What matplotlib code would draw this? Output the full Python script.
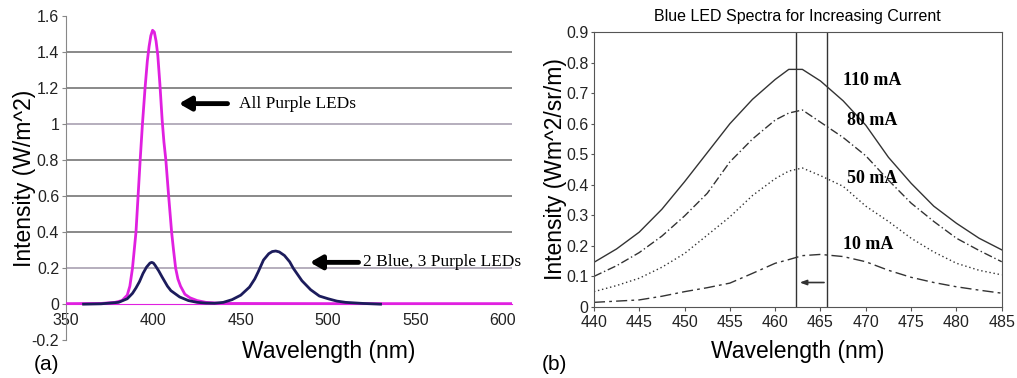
import matplotlib.pyplot as plt

# (a) spectra, W/m^2
wl_purple = [350, 370, 378, 382, 385, 386.5, 388, 389, 390, 391.2, 392.4, 393.7, 395.2, 396.5, 397.5, 398.5,
             399.5, 400.5, 401.5, 402.5, 403.7, 405, 406, 407.1, 408.7, 410.4, 411.5, 412.7, 414, 415.5,
             418, 421, 425, 430, 440, 500, 605]
all_purple = [0.003, 0.004, 0.01, 0.02, 0.05, 0.1, 0.2, 0.3, 0.4, 0.6, 0.8, 1.0, 1.2, 1.35, 1.43, 1.49,
              1.52, 1.51, 1.46, 1.38, 1.22, 1.02, 0.9, 0.8, 0.6, 0.4, 0.3, 0.2, 0.14, 0.1,
              0.055, 0.035, 0.02, 0.01, 0.004, 0.003, 0.003]

wl_mix = [360, 370, 380, 385, 388, 390, 392, 394, 396, 398, 399, 400, 401, 403, 405, 408, 410, 415, 420, 425,
          430, 435, 440, 445, 450, 455, 458, 460, 463, 466, 468, 470, 472, 475, 478, 480, 485, 490, 495,
          500, 505, 510, 520, 530]
mix = [0.0, 0.002, 0.01, 0.03, 0.06, 0.09, 0.125, 0.17, 0.205, 0.228, 0.232, 0.228, 0.215, 0.185, 0.15, 0.1,
       0.075, 0.04, 0.02, 0.01, 0.006, 0.005, 0.01, 0.025, 0.05, 0.095, 0.14, 0.18, 0.245, 0.28, 0.292, 0.295,
       0.29, 0.27, 0.235, 0.2, 0.13, 0.08, 0.045, 0.03, 0.017, 0.01, 0.004, 0.0]

# (b) blue LED spectra, Wm^2/sr/m
wl_b = [440, 442.5, 445, 447.5, 450, 452.5, 455, 457.5, 460, 461.5, 463, 465, 467.5, 470, 472.5, 475, 477.5, 480, 482.5, 485]
i110 = [0.146, 0.19, 0.245, 0.32, 0.41, 0.505, 0.60, 0.68, 0.745, 0.778, 0.778, 0.74, 0.675, 0.595, 0.49, 0.405, 0.33, 0.274, 0.225, 0.187]
i80 = [0.10, 0.135, 0.178, 0.232, 0.298, 0.372, 0.475, 0.55, 0.612, 0.635, 0.645, 0.605, 0.555, 0.495, 0.415, 0.34, 0.28, 0.225, 0.185, 0.148]
i50 = [0.05, 0.07, 0.094, 0.13, 0.175, 0.235, 0.295, 0.365, 0.42, 0.445, 0.455, 0.43, 0.395, 0.33, 0.28, 0.225, 0.18, 0.143, 0.12, 0.105]
i10 = [0.015, 0.019, 0.023, 0.035, 0.05, 0.063, 0.078, 0.11, 0.143, 0.155, 0.168, 0.172, 0.165, 0.148, 0.12, 0.097, 0.08, 0.066, 0.055, 0.045]
currents = ['110 mA', '80 mA', '50 mA', '10 mA']

sans = 'Liberation Sans'
serif = 'Liberation Serif'

fig = plt.figure(figsize=(10.17, 3.78), dpi=100)

# ---------- panel (a) ----------
ax1 = fig.add_axes([0.065, 0.1, 0.438, 0.858])
for y, c in zip([0.2, 0.4, 0.6, 0.8, 1.0, 1.2, 1.4], ['#b0a8b8', '#808080', '#808080', '#808080', '#b0a8b8', '#808080', '#808080']):
    ax1.axhline(y, color=c, lw=1.3, zorder=1)
ax1.plot(wl_purple, all_purple, color='#e020e0', lw=2, zorder=3, solid_joinstyle='round')
ax1.plot(wl_mix, mix, color='#1c1c5c', lw=2, zorder=4, solid_joinstyle='round')
ax1.set_xlim(350, 605)
ax1.set_ylim(-0.2, 1.6)
ax1.set_xticks([350, 400, 450, 500, 550, 600])
ax1.set_yticks([-0.2, 0, 0.2, 0.4, 0.6, 0.8, 1.0, 1.2, 1.4, 1.6])
ax1.set_yticklabels(['-0.2', '0', '0.2', '0.4', '0.6', '0.8', '1', '1.2', '1.4', '1.6'])
ax1.spines['top'].set_visible(False)
ax1.spines['right'].set_visible(False)
ax1.spines['bottom'].set_position(('data', 0))
ax1.spines['bottom'].set_color('#e020e0')
ax1.spines['left'].set_color('#888888')
ax1.tick_params(axis='x', length=0, pad=6.5, labelsize=11.5, colors='#222222')
ax1.tick_params(axis='y', length=3, color='#888888', pad=2, labelsize=11.5, colors='#222222')
for t in ax1.get_xticklabels() + ax1.get_yticklabels():
    t.set_family(sans)
ax1.set_ylabel('Intensity (W/m^2)', fontsize=16.5, family=sans)
ax1.yaxis.set_label_coords(-0.068, 0.5)
ax1.set_xlabel('Wavelength (nm)', fontsize=16.5, family=sans)
ax1.xaxis.set_label_coords(0.59, 0.0)
ax1.annotate('', xy=(413, 1.113), xytext=(444, 1.113),
             arrowprops=dict(arrowstyle='-|>,head_width=0.4,head_length=0.7', color='black', lw=3.5))
ax1.text(449, 1.113, 'All Purple LEDs', family=serif, fontsize=12.5, va='center')
ax1.annotate('', xy=(488, 0.232), xytext=(519, 0.232),
             arrowprops=dict(arrowstyle='-|>,head_width=0.4,head_length=0.7', color='black', lw=3.5))
ax1.text(520, 0.232, '2 Blue, 3 Purple LEDs', family=serif, fontsize=12.5, va='center', clip_on=False)
fig.text(0.033, 0.022, '(a)', family=sans, fontsize=15)

# ---------- panel (b) ----------
ax2 = fig.add_axes([0.584, 0.188, 0.401, 0.727])
styles = ['-', (0, (6, 2, 1, 2)), (0, (1, 2)), (0, (8, 3, 2, 3))]
for vals, ls in zip([i110, i80, i50, i10], styles):
    ax2.plot(wl_b, vals, color='#333333', lw=1, linestyle=ls)
ax2.axvline(462.3, color='#333333', lw=1)
ax2.axvline(465.7, color='#333333', lw=1)
ax2.annotate('', xy=(462.4, 0.08), xytext=(465.7, 0.08),
             arrowprops=dict(arrowstyle='-|>,head_width=0.15,head_length=0.4', color='#333333', lw=1.2))
for lab, x, y in zip(currents, [467.45, 467.9, 467.9, 467.45], [0.743, 0.612, 0.422, 0.203]):
    ax2.text(x, y, lab, family=serif, fontweight='bold', fontsize=13, va='center')
ax2.set_xlim(440, 485)
ax2.set_ylim(0, 0.9)
ax2.set_xticks(range(440, 486, 5))
ax2.set_yticks([0, 0.1, 0.2, 0.3, 0.4, 0.5, 0.6, 0.7, 0.8, 0.9])
ax2.set_yticklabels(['0', '0.1', '0.2', '0.3', '0.4', '0.5', '0.6', '0.7', '0.8', '0.9'])
for s in ax2.spines.values():
    s.set_color('#555555')
ax2.tick_params(axis='y', length=2.5, pad=1.5, color='#555555', labelsize=11.5, colors='#222222')
ax2.tick_params(axis='x', length=3, pad=3, color='#555555', labelsize=11.5, colors='#222222')
for t in ax2.get_xticklabels() + ax2.get_yticklabels():
    t.set_family(sans)
ax2.set_title('Blue LED Spectra for Increasing Current', family=sans, fontsize=11.5, pad=8)
ax2.set_ylabel('Intensity (Wm^2/sr/m)', fontsize=16.5, family=sans)
ax2.yaxis.set_label_coords(-0.067, 0.5)
ax2.set_xlabel('Wavelength (nm)', fontsize=16.5, family=sans, labelpad=7)
fig.text(0.533, 0.022, '(b)', family=sans, fontsize=15)

fig.savefig('out.png', dpi=100)
